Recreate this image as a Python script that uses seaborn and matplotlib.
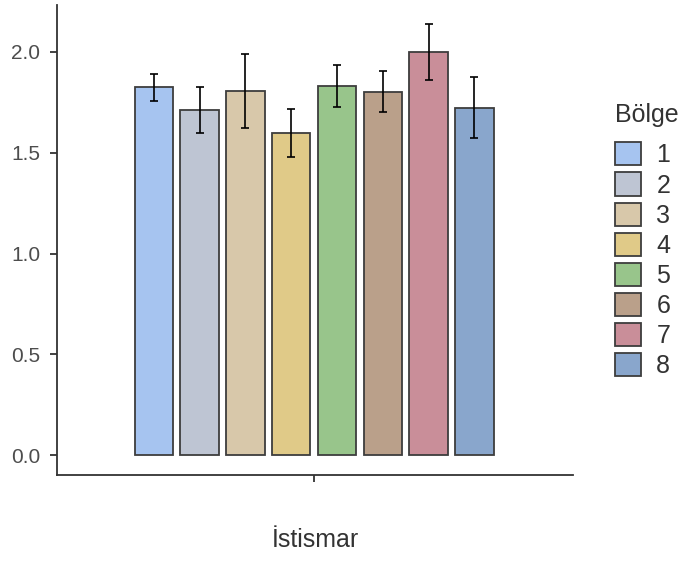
import matplotlib
matplotlib.use("Agg")
import pandas as pd
import matplotlib.pyplot as plt
from matplotlib.patches import Patch
import seaborn as sns

# ---- veri ----
bolge = ["1", "2", "3", "4", "5", "6", "7", "8"]
ortalama = [1.824, 1.711, 1.806, 1.598, 1.831, 1.803, 1.998, 1.724]
hata = [0.067, 0.115, 0.183, 0.120, 0.102, 0.102, 0.139, 0.150]
renkler = ["#a6c4f0", "#bec5d3", "#d8c8aa", "#e0ca88",
           "#98c58b", "#baa08a", "#c98e99", "#89a6cc"]
y_ticks = [0.0, 0.5, 1.0, 1.5, 2.0]

df = pd.DataFrame({"grup": [""] * len(bolge), "Bölge": bolge, "ortalama": ortalama})

sns.set_theme(style="ticks")
plt.rcParams["font.family"] = ["Liberation Sans", "DejaVu Sans"]

KENAR = "#3d3d3d"
EKSEN = "#333333"

fig = plt.figure(figsize=(6.86, 5.63), dpi=100)
ax = fig.add_axes([57 / 686, 88 / 563, 516 / 686, 470 / 563])

sns.barplot(data=df, x="grup", y="ortalama", hue="Bölge", hue_order=bolge,
            palette=renkler, saturation=1, errorbar=None, width=0.814, gap=0.16,
            edgecolor=KENAR, linewidth=1.3, legend=False, ax=ax)

# hata çubukları: çubuk merkezleri seaborn'un yerleştirdiği yerden
xs = []
for cont in ax.containers:
    for bar in cont:
        xs.append(bar.get_x() + bar.get_width() / 2)
ax.errorbar(xs, ortalama, yerr=hata, fmt="none", ecolor="black",
            elinewidth=1.2, capsize=3, capthick=1.2, zorder=5)

ax.set_xlim(-0.571, 0.575)
ax.set_ylim(-0.099, 2.233)
ax.set_yticks(y_ticks)
ax.set_yticklabels([f"{v:.1f}" for v in y_ticks])
ax.set_xticks([0])
ax.set_xticklabels([""])
ax.set_ylabel("")
ax.set_xlabel("İstismar", fontsize=18, color="#333333", labelpad=26)

sns.despine(ax=ax)
for s in ["left", "bottom"]:
    ax.spines[s].set_color(EKSEN)
    ax.spines[s].set_linewidth(1.3)
ax.tick_params(length=5, width=1.3, color=EKSEN, labelsize=15,
               labelcolor="#4d4d4d", pad=7)

handles = [Patch(facecolor=c, edgecolor=KENAR, linewidth=1.3) for c in renkler]
leg = ax.legend(handles, bolge, title="Bölge", loc="upper left",
                bbox_to_anchor=(615 / 686, 1 - 103 / 563),
                bbox_transform=fig.transFigure, frameon=False, borderpad=0,
                borderaxespad=0, fontsize=18, title_fontsize=18,
                handlelength=1.05, handleheight=1.05, labelspacing=0.2,
                handletextpad=0.6, alignment="left")
leg._legend_box.sep = 11  # başlık ile kutular arası boşluk
for t in leg.get_texts():
    t.set_color("#333333")
leg.get_title().set_color("#333333")

fig.savefig("out.png", dpi=100)
